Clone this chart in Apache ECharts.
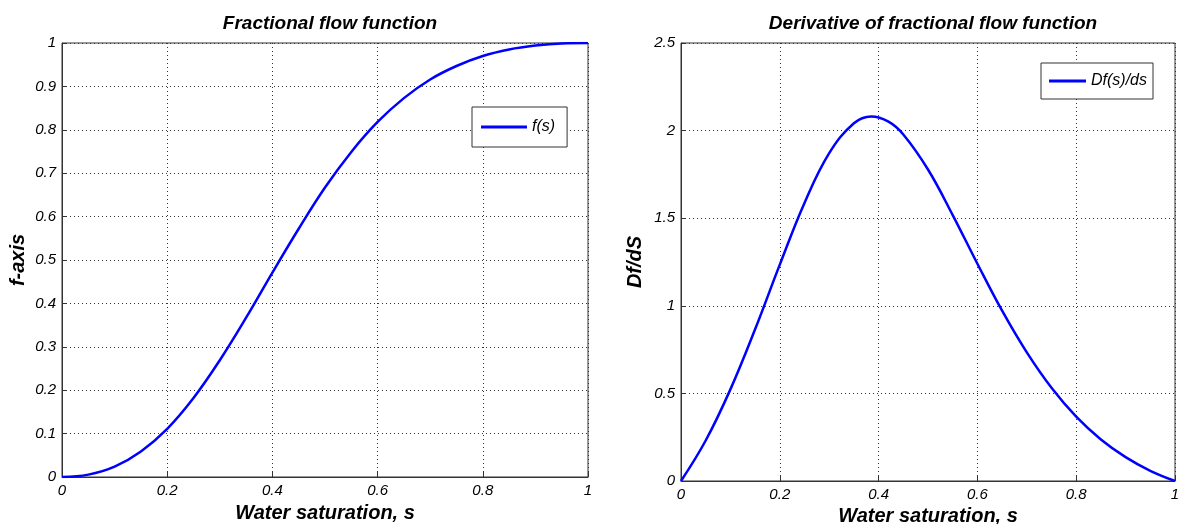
<!DOCTYPE html>
<html>
<head>
<meta charset="utf-8">
<script src="https://cdn.jsdelivr.net/npm/echarts@6/dist/echarts.min.js"></script>
<style>
html,body{margin:0;padding:0;background:#fff;}
#main{width:1179px;height:524px;}
</style>
</head>
<body>
<div id="main"></div>
<script>
// water saturation samples
var sat = [0, 0.05, 0.1, 0.15, 0.2, 0.25, 0.3, 0.35, 0.4, 0.45, 0.5,
           0.55, 0.6, 0.65, 0.7, 0.75, 0.8, 0.85, 0.9, 0.95, 1];
// fractional flow f(s)
var fs = [0, 0.0055, 0.024, 0.059, 0.111, 0.182, 0.269, 0.367, 0.471, 0.572, 0.667,
          0.749, 0.818, 0.873, 0.916, 0.947, 0.970, 0.985, 0.994, 0.999, 1];
// derivative Df/ds (extra samples around the peak)
var satD = [0, 0.05, 0.1, 0.15, 0.2, 0.25, 0.3, 0.35, 0.385, 0.42, 0.45, 0.5,
            0.55, 0.6, 0.65, 0.7, 0.75, 0.8, 0.85, 0.9, 0.95, 1];
var dfs = [0, 0.231, 0.523, 0.866, 1.235, 1.587, 1.871, 2.042, 2.081, 2.051, 1.978, 1.778,
           1.518, 1.240, 0.972, 0.734, 0.532, 0.367, 0.237, 0.136, 0.058, 0];

function pairs(xs, ys){
  var out = [];
  for (var i = 0; i < xs.length; i++) out.push([xs[i], ys[i]]);
  return out;
}

var fontFam = '"Liberation Sans", Arial, sans-serif';
var tickLbl = {fontFamily: fontFam, fontStyle: 'italic', fontSize: 15, color: '#000'};
var nameTxt = {fontFamily: fontFam, fontStyle: 'italic', fontWeight: 'bold', fontSize: 20, color: '#000'};
var titleTxt = {fontFamily: fontFam, fontStyle: 'italic', fontWeight: 'bold', fontSize: 19, color: '#000'};
var gridLine = {show: true, lineStyle: {color: '#333', type: [1, 3], width: 1}};
var lbl = function(v){ return String(parseFloat(v.toFixed(2))); };

var myChart = echarts.init(document.getElementById('main'));
var option = {
  backgroundColor: '#fff',
  animation: false,
  title: [
    {text: 'Fractional flow function', left: 325, top: 9, textAlign: 'center', textStyle: titleTxt},
    {text: 'Derivative of fractional flow function', left: 928, top: 9, textAlign: 'center', textStyle: titleTxt}
  ],
  legend: [
    {data: ['f(s)'], left: 472, top: 107, orient: 'vertical', icon: 'rect',
     padding: [12, 12, 12, 9], itemWidth: 46, itemHeight: 3,
     borderColor: '#333', borderWidth: 1, backgroundColor: '#fff',
     textStyle: {fontFamily: fontFam, fontStyle: 'italic', fontSize: 16, color: '#000'}},
    {data: ['Df(s)/ds'], left: 1041, top: 63, orient: 'vertical', icon: 'rect',
     padding: [10, 6, 10, 8], itemWidth: 37, itemHeight: 3,
     borderColor: '#333', borderWidth: 1, backgroundColor: '#fff',
     textStyle: {fontFamily: fontFam, fontStyle: 'italic', fontSize: 16, color: '#000'}}
  ],
  grid: [
    {left: 62, top: 43, right: 591, bottom: 47, outerBoundsMode: 'none', containLabel: false,
     show: true, borderColor: '#333', borderWidth: 1},
    {left: 681, top: 43, right: 4, bottom: 43, outerBoundsMode: 'none', containLabel: false,
     show: true, borderColor: '#333', borderWidth: 1}
  ],
  xAxis: [0, 1].map(function(g){
    return {
      type: 'value', gridIndex: g, min: 0, max: 1, interval: 0.2,
      name: 'Water saturation, s', nameLocation: 'middle', nameGap: g ? 23 : 26, nameTextStyle: nameTxt,
      axisLine: {lineStyle: {color: '#333'}},
      axisTick: {inside: true, length: 5, lineStyle: {color: '#333'}},
      axisLabel: Object.assign({margin: 6, formatter: lbl}, tickLbl),
      splitLine: gridLine
    };
  }),
  yAxis: [
    {type: 'value', gridIndex: 0, min: 0, max: 1, interval: 0.1,
     name: 'f-axis', nameLocation: 'middle', nameGap: 34, nameTextStyle: nameTxt,
     axisLine: {lineStyle: {color: '#333'}},
     axisTick: {inside: true, length: 5, lineStyle: {color: '#333'}},
     axisLabel: Object.assign({margin: 6, formatter: lbl}, tickLbl),
     splitLine: gridLine},
    {type: 'value', gridIndex: 1, min: 0, max: 2.5, interval: 0.5,
     name: 'Df/dS', nameLocation: 'middle', nameGap: 36, nameTextStyle: nameTxt,
     axisLine: {lineStyle: {color: '#333'}},
     axisTick: {inside: true, length: 5, lineStyle: {color: '#333'}},
     axisLabel: Object.assign({margin: 6, formatter: lbl}, tickLbl),
     splitLine: gridLine}
  ],
  series: [
    {name: 'f(s)', type: 'line', xAxisIndex: 0, yAxisIndex: 0, data: pairs(sat, fs),
     smooth: 0.4, symbol: 'none', lineStyle: {color: '#0000ff', width: 2.5}, itemStyle: {color: '#0000ff'}},
    {name: 'Df(s)/ds', type: 'line', xAxisIndex: 1, yAxisIndex: 1, data: pairs(satD, dfs),
     smooth: 0.4, symbol: 'none', lineStyle: {color: '#0000ff', width: 2.5}, itemStyle: {color: '#0000ff'}}
  ]
};
myChart.setOption(option);
</script>
</body>
</html>
